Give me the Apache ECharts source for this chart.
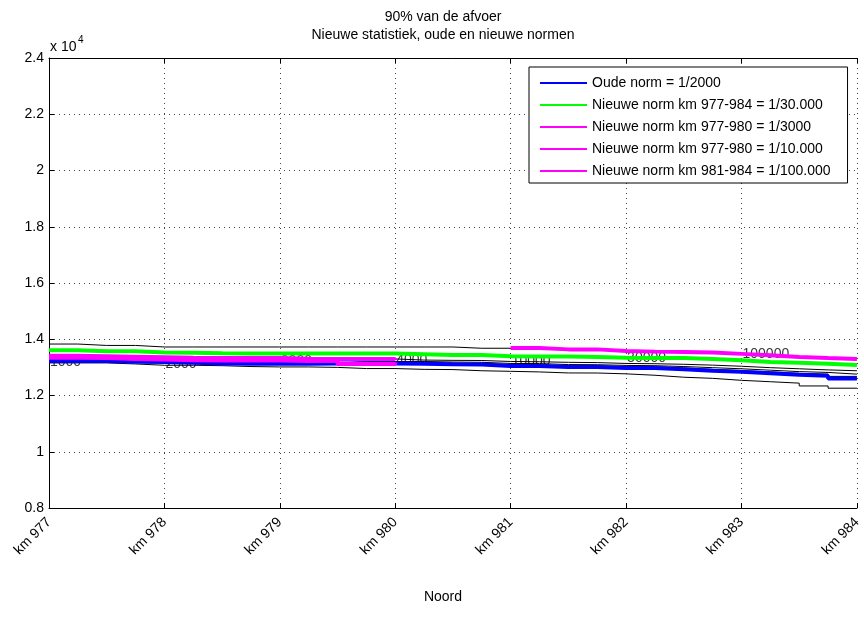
<!DOCTYPE html>
<html>
<head>
<meta charset="utf-8">
<script src="https://cdn.jsdelivr.net/npm/echarts@6/dist/echarts.min.js"></script>
<style>
  html, body { margin: 0; background: #fff; }
  #chart { width: 864px; height: 624px; }
</style>
</head>
<body>
<div id="chart"></div>
<script>
// hectometre grid the step lines are drawn on
const km = [977, 977.25, 977.5, 977.75, 978, 978.25, 978.5, 978.75, 979, 979.25, 979.5, 979.75,
  980, 980.25, 980.5, 980.75, 981, 981.25, 981.5, 981.75, 982, 982.25, 982.5, 982.75,
  983, 983.25, 983.5, 983.75, 984];

// afvoer per herhalingstijd (m3/s)
const t1000 = [13158, 13158, 13122, 13075, 13075, 13060, 13030, 13016, 13016, 13000, 12958, 12958,
  12930, 12922, 12880, 12860, 12838, 12802, 12800, 12770, 12720, 12650, 12610, 12540,
  12490, 12440, 12340, 12260, 12240];
const t2000 = [13230, 13230, 13200, 13190, 13160, 13140, 13125, 13125, 13130, 13136, 13136, 13136,
  13130, 13111, 13100, 13052, 13052, 13016, 13016, 12980, 12980, 12935, 12880, 12840,
  12790, 12740, 12700, 12604, 12590];
const t3000 = [13342, 13330, 13300, 13280, 13250, 13243, 13243, 13243, 13229, 13229, 13120, 13120,
  13170, 13150, 13140, 13095, 13090, 13060, 13055, 13025, 13020, 12980, 12930, 12890,
  12840, 12790, 12760, 12680, 12660];
const t4000 = [13380, 13365, 13340, 13320, 13295, 13290, 13290, 13290, 13270, 13265, 13210, 13210,
  13210, 13190, 13180, 13140, 13135, 13100, 13095, 13070, 13060, 13030, 12990, 12950,
  12900, 12850, 12820, 12760, 12740];
const t10000 = [13413, 13400, 13380, 13360, 13340, 13335, 13335, 13335, 13310, 13300, 13300, 13300,
  13260, 13250, 13245, 13210, 13200, 13180, 13170, 13140, 13130, 13110, 13080, 13040,
  12990, 12950, 12910, 12880, 12860];
const t30000 = [13610, 13575, 13575, 13530, 13520, 13500, 13490, 13490, 13490, 13490, 13490, 13490,
  13470, 13440, 13440, 13395, 13390, 13385, 13370, 13340, 13336, 13336, 13300, 13250,
  13190, 13165, 13130, 13087, 13080];
const t100000 = [13830, 13780, 13780, 13725, 13725, 13725, 13725, 13725, 13725, 13725, 13725, 13725,
  13725, 13725, 13680, 13680, 13690, 13640, 13640, 13585, 13560, 13550, 13530, 13480,
  13430, 13370, 13330, 13300, 13290];

// labels along the lines
const periodText = ['1000', '2000', '3000', '4000', '10000', '30000', '100000'];
const periodKm = [977, 978, 979, 980, 981, 982, 983];
const periodValue = [13182, 13110, 13235, 13264, 13235, 13324, 13467];

const legendNames = [
  'Oude norm = 1/2000',
  'Nieuwe norm km 977-984 = 1/30.000',
  'Nieuwe norm km 977-980 = 1/3000',
  'Nieuwe norm km 977-980 = 1/10.000',
  'Nieuwe norm km 981-984 = 1/100.000'
];

const FONT = '"Liberation Sans", Arial, sans-serif';
const pairs = (xs, ys) => ys.map((v, i) => [xs[i], v]);

const blackLine = (name, values) => ({
  name, type: 'line', step: 'end', showSymbol: false, silent: true, z: 2,
  lineStyle: { color: '#000', width: 1 },
  data: pairs(km, values)
});
const normLine = (name, color, xs, values) => ({
  name, type: 'line', step: 'end', showSymbol: false, z: 3,
  lineStyle: { color, width: 4 }, itemStyle: { color },
  data: pairs(xs, values)
});

const chart = echarts.init(document.getElementById('chart'));
chart.setOption({
  animation: false,
  textStyle: { fontFamily: FONT },
  grid: { left: 49, top: 58, width: 817, height: 450 },
  legend: {
    data: legendNames,
    orient: 'vertical',
    left: 529, top: 67,
    icon: 'rect', itemWidth: 47, itemHeight: 2, itemGap: 6,
    padding: [8, 17, 4, 11],
    backgroundColor: '#fff', borderColor: '#000', borderWidth: 1, borderRadius: 0,
    textStyle: { fontFamily: FONT, fontSize: 14, color: '#000', lineHeight: 16 }
  },
  xAxis: [{
    type: 'value', min: 977, max: 984, interval: 1,
    axisLine: { lineStyle: { color: '#000' } },
    axisTick: { inside: true, length: 5, lineStyle: { color: '#000' } },
    axisLabel: { rotate: 45, margin: 12, color: '#000', fontSize: 14, fontFamily: FONT,
      formatter: v => 'km ' + v },
    splitLine: { show: true, lineStyle: { color: '#444', type: [1, 4] } }
  }, {
    type: 'value', position: 'top', min: 977, max: 984, interval: 1,
    axisLine: { lineStyle: { color: '#000' } },
    axisTick: { inside: true, length: 5, lineStyle: { color: '#000' } },
    axisLabel: { show: false }, splitLine: { show: false }
  }],
  yAxis: {
    type: 'value', min: 8000, max: 24000, interval: 2000,
    axisLine: { show: true, lineStyle: { color: '#000' } },
    axisTick: { show: true, inside: true, length: 5, lineStyle: { color: '#000' } },
    axisLabel: { margin: 5, color: '#000', fontSize: 14, fontFamily: FONT,
      formatter: v => String(+(v / 10000).toFixed(1)) },
    splitLine: { show: true, lineStyle: { color: '#444', type: [1, 4] } }
  },
  graphic: [
    { type: 'text', x: 443, y: 17, style: { text: '90% van de afvoer', font: '14px ' + FONT,
      fill: '#000', align: 'center', verticalAlign: 'middle' } },
    { type: 'text', x: 443, y: 35, style: { text: 'Nieuwe statistiek, oude en nieuwe normen',
      font: '14px ' + FONT, fill: '#000', align: 'center', verticalAlign: 'middle' } },
    { type: 'text', x: 50, y: 47, style: { text: 'x 10', font: '14px ' + FONT,
      fill: '#000', align: 'left', verticalAlign: 'middle' } },
    { type: 'text', x: 78, y: 40, style: { text: '4', font: '10px ' + FONT,
      fill: '#000', align: 'left', verticalAlign: 'middle' } },
    { type: 'text', x: 443, y: 597, style: { text: 'Noord', font: '14px ' + FONT,
      fill: '#000', align: 'center', verticalAlign: 'middle' } }
  ],
  series: [
    {
      name: 'labels', type: 'scatter', symbolSize: 0, silent: true, z: 1,
      data: periodKm.map((x, i) => ({ value: [x, periodValue[i]], name: periodText[i] })),
      label: { show: true, position: 'right', distance: 1, formatter: p => p.name,
        color: '#000', fontSize: 14, fontFamily: FONT }
    },
    blackLine('T1000', t1000),
    blackLine('T2000', t2000),
    blackLine('T3000', t3000),
    blackLine('T4000', t4000),
    blackLine('T10000', t10000),
    blackLine('T30000', t30000),
    blackLine('T100000', t100000),
    normLine(legendNames[0], '#0000ff', km, t2000),
    normLine(legendNames[1], '#00ff00', km, t30000),
    normLine(legendNames[2], '#ff00ff', km.slice(0, 13), t3000.slice(0, 13)),
    normLine(legendNames[3], '#ff00ff', km.slice(0, 13), t10000.slice(0, 13)),
    normLine(legendNames[4], '#ff00ff', km.slice(16), t100000.slice(16))
  ]
});
</script>
</body>
</html>
